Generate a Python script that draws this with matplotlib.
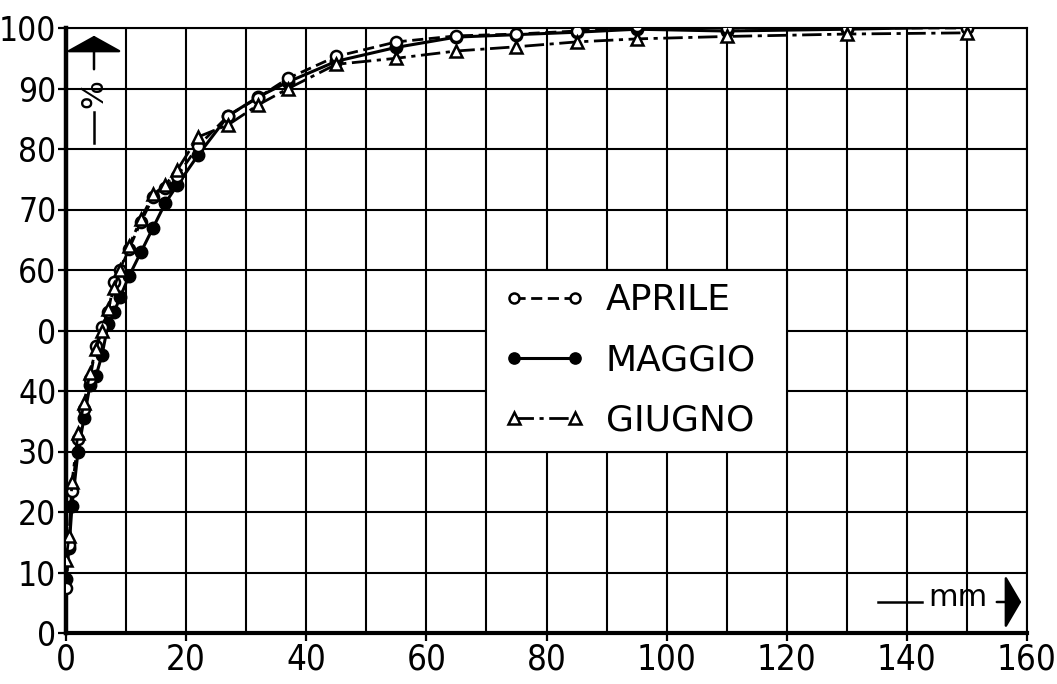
import matplotlib
matplotlib.use('Agg')
import matplotlib.pyplot as plt
from matplotlib.lines import Line2D
from matplotlib.patches import Rectangle

# sieve sizes (mm) shared by the three months
size_mm = [0, 0.5, 1, 2, 3, 4, 5, 6, 7, 8, 9, 10.5, 12.5, 14.5, 16.5, 18.5,
           22, 27, 32, 37, 45, 55, 65, 75, 85, 95, 110, 130, 150]

aprile = [7.5, 14.5, 23.5, 32, 37, 42, 47.5, 50.5, 53, 58, 60, 63.5, 68, 72, 73.5, 75.5,
          80.5, 85.5, 88.5, 91.7, 95.3, 97.7, 98.7, 99, 99.5, 100.3, 100, 100, 100]
maggio = [9, 14, 21, 30, 35.5, 41, 42.5, 46, 51, 53, 55.5, 59, 63, 67, 71, 74,
          79, 85.5, 88.6, 91.1, 94.5, 96.8, 98.5, 98.9, 99.3, 99.8, 99.5, 99.8, 100.2]
giugno = [12, 16, 25, 33, 38, 43, 47, 50, 53.5, 57, 60, 64, 68.5, 72.5, 74, 76.5,
          82, 84, 87.3, 90, 94, 95, 96.2, 96.9, 97.7, 98.2, 98.6, 99, 99.2]

xticks = [0, 20, 40, 60, 80, 100, 120, 140, 160]
yticks = [0, 10, 20, 30, 40, 50, 60, 70, 80, 90, 100]
ytick_labels = ['0', '10', '20', '30', '40', '0', '60', '70', '80', '90', '100']

num_font = ['Liberation Sans Narrow', 'DejaVu Sans']

fig = plt.figure(figsize=(10.57, 6.84), dpi=100)
ax = fig.add_axes([66 / 1057, 51 / 684, 961 / 1057, 605 / 684])

ax.plot(size_mm, aprile, color='black', lw=2.0, ls=(0, (4, 2)), marker='o',
        ms=8, mfc='white', mec='black', mew=1.8, label='APRILE', zorder=4)
ax.plot(size_mm, maggio, color='black', lw=2.2, ls='-', marker='o',
        ms=9, mfc='black', mec='black', label='MAGGIO', zorder=3)
ax.plot(size_mm, giugno, color='black', lw=2.0, ls=(0, (7, 2, 1.5, 2)), marker='^',
        ms=9, mfc='white', mec='black', mew=1.8, label='GIUGNO', zorder=5)

ax.set_xlim(0, 160)
ax.set_ylim(0, 100)
ax.set_xticks(range(0, 161, 10), minor=True)
ax.set_xticks(xticks)
ax.set_xticklabels([str(v) for v in xticks], family=num_font, fontsize=25,
                   fontstretch='condensed')
ax.set_yticks(yticks)
ax.set_yticklabels(ytick_labels, family=num_font, fontsize=24, fontstretch='condensed')
ax.tick_params(which='both', direction='out', length=6, width=1.6, color='black', pad=1)
ax.tick_params(axis='x', which='minor', length=0)

ax.set_axisbelow(True)
ax.grid(True, which='both', color='black', lw=1.5)
for side in ['top', 'right']:
    ax.spines[side].set_linewidth(1.5)
ax.spines['left'].set_linewidth(3.2)
ax.spines['bottom'].set_linewidth(3.0)

# white panel behind the legend
ax.add_patch(Rectangle((70, 30), 50, 30, facecolor='white', edgecolor='black',
                       lw=1.5, zorder=1))
ax.legend(loc='center', bbox_to_anchor=(93.8, 45.1), bbox_transform=ax.transData,
          frameon=False, numpoints=2, fontsize=26, handlelength=2.3,
          handletextpad=0.55, labelspacing=0.72, markerscale=0.9)

# axis annotations with arrows
ax.annotate('', xy=(94, 684 - 33), xytext=(94, 684 - 72), xycoords='figure pixels',
            textcoords='figure pixels',
            arrowprops=dict(arrowstyle='-|>,head_length=0.5,head_width=0.9',
                            color='black', lw=1.8, mutation_scale=20))
fig.text(94 / 1057, 1 - 94 / 684, '%', rotation=90, ha='center', va='center',
         fontsize=22, family='DejaVu Sans')
fig.add_artist(Line2D([94 / 1057, 94 / 1057], [1 - 112 / 684, 1 - 143 / 684],
                      color='black', lw=1.8))

fig.add_artist(Line2D([878 / 1057, 922 / 1057], [1 - 602 / 684, 1 - 602 / 684],
                      color='black', lw=1.8))
fig.text(958 / 1057, 1 - 598 / 684, 'mm', ha='center', va='center',
         fontsize=22, family='DejaVu Sans')
ax.annotate('', xy=(1024, 684 - 602), xytext=(994, 684 - 602), xycoords='figure pixels',
            textcoords='figure pixels',
            arrowprops=dict(arrowstyle='-|>,head_length=0.5,head_width=0.85',
                            color='black', lw=1.8, mutation_scale=20))

fig.savefig('out.png', dpi=100)
